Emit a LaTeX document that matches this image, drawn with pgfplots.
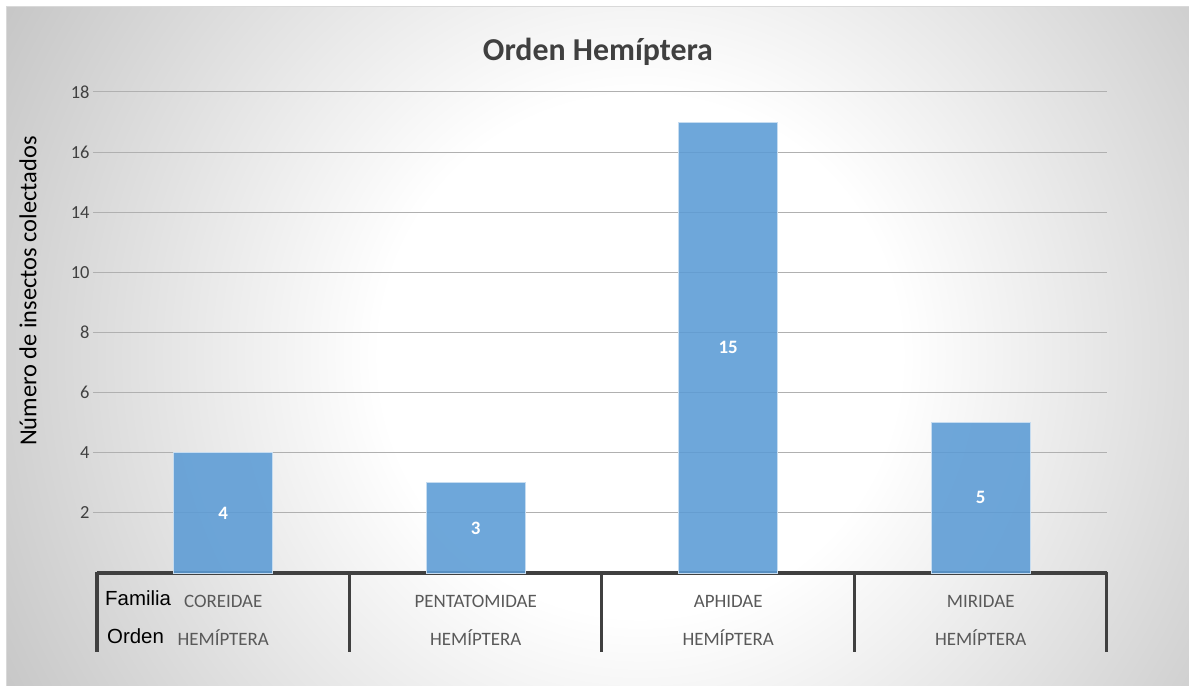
\documentclass[border=0pt]{standalone}
\usepackage{pgfplots}
\pgfplotsset{compat=1.18}
\usepackage{pgfplotstable}
\usepackage{fontspec}
\setmainfont{Carlito}
\newfontfamily\arialfont{Liberation Sans}
\definecolor{barblue}{HTML}{5B9BD5}
\definecolor{axisdark}{HTML}{404040}
\definecolor{txtgray}{HTML}{595959}
\definecolor{gridgray}{HTML}{B0B0B0}
\definecolor{bgouter}{HTML}{C2C2C2}
\pgfdeclareradialshading{bgshade}{\pgfpoint{0bp}{0bp}}{color(0bp)=(white); color(260bp)=(white); color(760bp)=(bgouter)}

\pgfplotstableread{
x n
0 4
1 3
2 15
3 5
}\datatable

\begin{document}
\begin{tikzpicture}
\useasboundingbox (0bp,0bp) rectangle (1189bp,686bp);
\fill[white] (0bp,0bp) rectangle (1189bp,686bp);
\begin{scope}
\clip (6bp,0bp) rectangle (1189bp,679bp);
\fill[bgouter] (6bp,0bp) rectangle (1189bp,679bp);
\pgftext[at={\pgfpoint{640bp}{330bp}}]{\pgfuseshading{bgshade}}
\end{scope}
\draw[gray!30, line width=1.2bp] (6.5bp,-1bp) -- (6.5bp,679.5bp) -- (1190bp,679.5bp);

\begin{axis}[
  at={(97bp,113bp)}, anchor=south west,
  scale only axis, width=1010bp, height=481bp,
  xmin=-0.5, xmax=3.5, ymin=0, ymax=16,
  clip=false,
  /pgf/number format/assume math mode=true,
  axis x line=bottom, axis y line=left,
  axis line style={-},
  x axis line style={draw=axisdark, line width=3bp},
  y axis line style={draw=none},
  xtick={0,1,2,3},
  xticklabels={{COREIDAE\\HEMÍPTERA},{PENTATOMIDAE\\HEMÍPTERA},{APHIDAE\\HEMÍPTERA},{MIRIDAE\\HEMÍPTERA}},
  xtick style={draw=none},
  xticklabel style={align=center, font=\fontsize{19}{38.3}\selectfont, text=txtgray, anchor=north, inner sep=0pt, yshift=-18bp},
  ytick={2,4,6,8,10,12,14,16},
  yticklabels={2,4,6,8,10,14,16,18},
  ytick style={draw=gridgray, line width=1bp},
  major tick length=4bp, tick align=outside,
  yticklabel style={font=\fontsize{18.5}{22}\selectfont, text=axisdark},
  ymajorgrids, grid style={draw=gridgray, line width=1bp},
  title={Orden Hemíptera},
  title style={font=\bfseries\fontsize{32}{38}\selectfont, text=axisdark, at={(axis description cs:0.5,1)}, anchor=center, yshift=34bp, xshift=-4bp},
  ylabel={Número de insectos colectados},
  ylabel style={font=\fontsize{24.5}{29}\selectfont, text=black, at={(axis description cs:-0.0683,0.586)}, anchor=center},
]
\addplot[ybar, bar width=0.392, fill=barblue, fill opacity=0.88, draw=white!65!barblue, line width=1bp] table[x=x, y=n] {\datatable};
\addplot[draw=none, mark=none, nodes near coords, point meta=explicit, nodes near coords align=center,
  every node near coord/.append style={font=\bfseries\fontsize{19}{22}\selectfont, text=white, anchor=center}]
  table[x=x, y expr=\thisrow{n}/2, meta=n] {\datatable};
\draw[axisdark, line width=3bp] (axis cs:-0.5,0) ++(0bp,1.5bp) -- ++(0bp,-80.5bp);
\draw[axisdark, line width=3bp] (axis cs:0.5,0) -- ++(0bp,-79bp);
\draw[axisdark, line width=3bp] (axis cs:1.5,0) -- ++(0bp,-79bp);
\draw[axisdark, line width=3bp] (axis cs:2.5,0) -- ++(0bp,-79bp);
\draw[axisdark, line width=3bp] (axis cs:3.5,0) ++(0bp,1.5bp) -- ++(0bp,-80.5bp);
\end{axis}
\node[anchor=base west, inner sep=0pt, font=\arialfont\fontsize{20.5}{24}\selectfont, text=black] at (105bp,80.3bp) {Familia};
\node[anchor=base west, inner sep=0pt, font=\arialfont\fontsize{20.5}{24}\selectfont, text=black] at (107bp,42.7bp) {Orden};
\end{tikzpicture}
\end{document}
